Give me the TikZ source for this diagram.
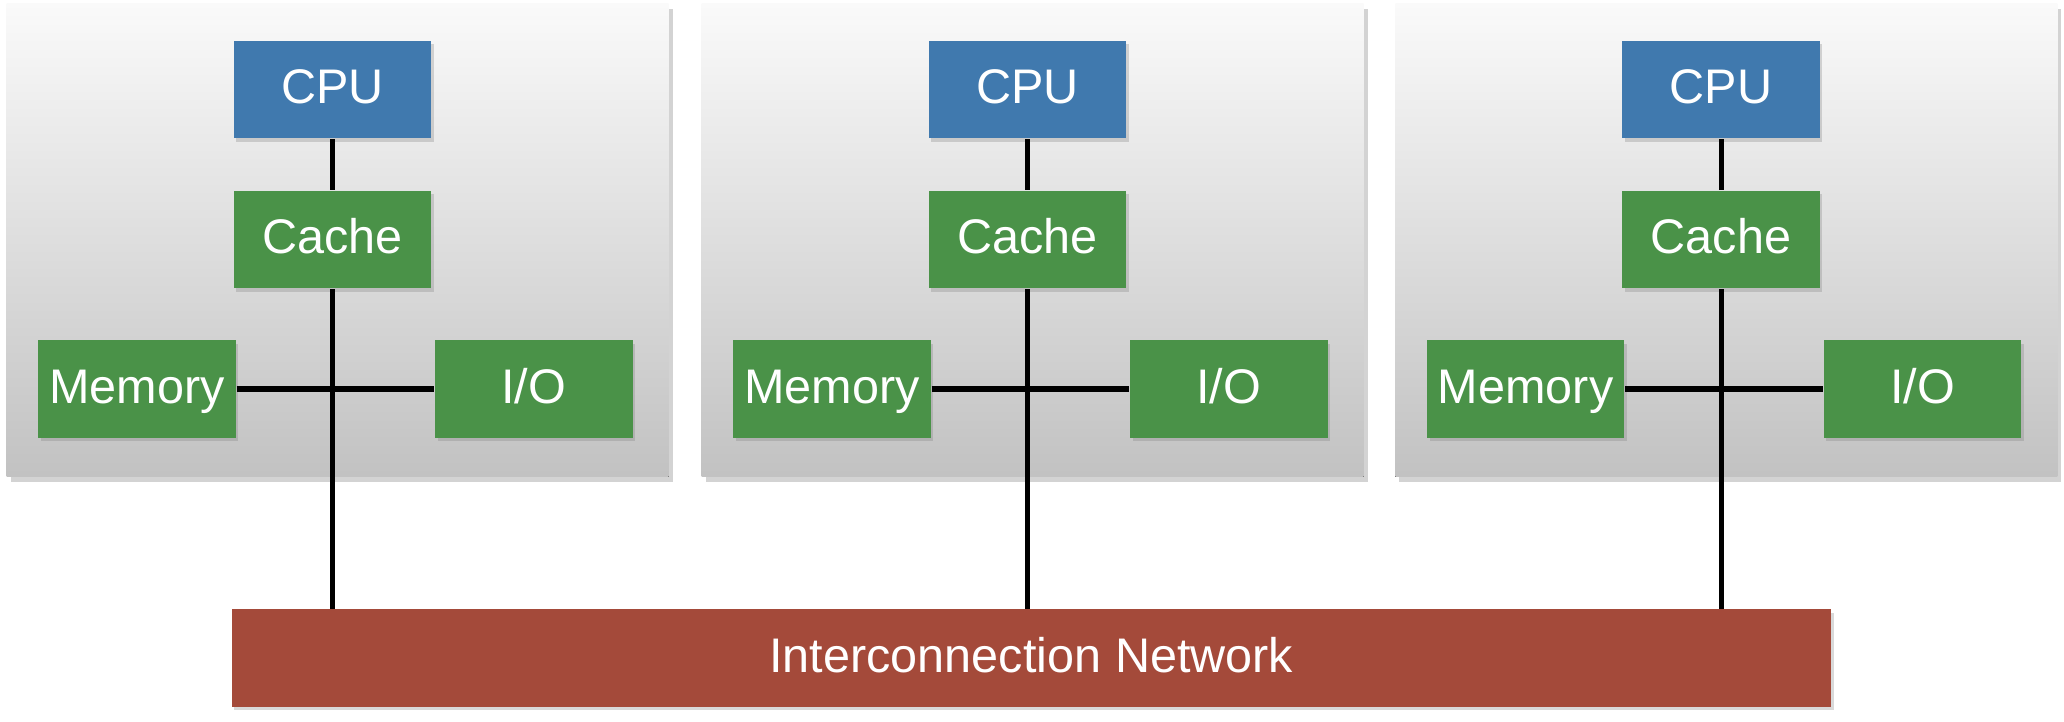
\documentclass[tikz,border=0pt]{standalone}
\usepackage{fontspec}
\setmainfont{Liberation Sans}
\usepackage{tikz}
\usetikzlibrary{shadows}

\definecolor{cpublue}{RGB}{64,121,174}
\definecolor{partgreen}{RGB}{74,146,72}
\definecolor{netred}{RGB}{164,74,58}

\tikzset{
	panel/.style={top color=black!2, bottom color=black!24, draw=none,
		drop shadow={opacity=0.35, shadow xshift=0.03, shadow yshift=-0.04}},
	part/.style={fill=partgreen, text=white, minimum width=1.5cm, minimum height=0.74cm,
		inner sep=0pt, text height=1.5ex, text depth=0.35ex,
		font=\fontsize{10.5}{12}\selectfont,
		drop shadow={opacity=0.3, shadow xshift=0.02, shadow yshift=-0.025}},
	cpubox/.style={part, fill=cpublue},
	netbox/.style={part, fill=netred, minimum width=12.15cm},
	wire/.style={line width=1.1pt, black}
}

\begin{document}
\begin{tikzpicture}
	\useasboundingbox (0,0) rectangle (15.68,-5.48);

	% Panels
	\foreach \dx in {0, 5.28, 10.55} {
		\fill[panel] (0.05+\dx,-0.03) rectangle (5.08+\dx,-3.62);
	}

	% network
	\node[netbox] (net) at (7.835,-5.0) {Interconnection Network};

	% nodes per panel
	\foreach \i/\dx in {1/0, 2/5.28, 3/10.55} {
		\node[cpubox] (cpu\i) at (2.525+\dx,-0.68) {CPU};
		\node[part] (cache\i) at (2.525+\dx,-1.82) {Cache};
		\node[part] (mem\i) at (1.04+\dx,-2.955) {Memory};
		\node[part] (io\i) at (4.055+\dx,-2.955) {I/O};

		% wires
		\draw[wire] (cpu\i) -- (cache\i);
		\draw[wire] (mem\i) -- (io\i);
		\draw[wire] (cache\i) -- (cache\i |- net.north);
	}
\end{tikzpicture}
\end{document}
